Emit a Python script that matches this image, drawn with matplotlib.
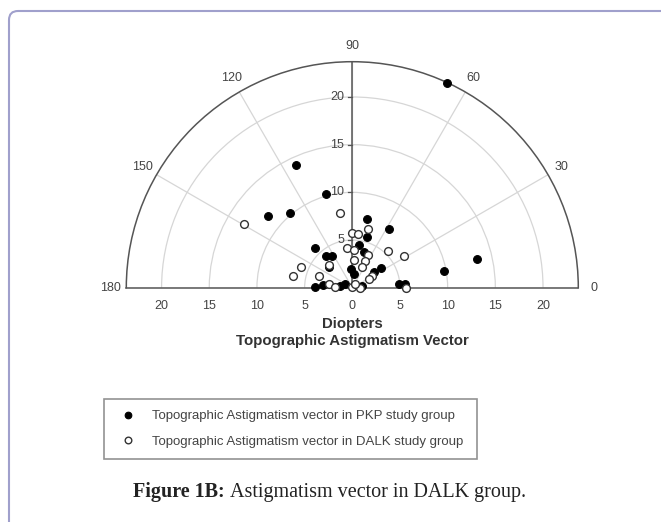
import numpy as np
import matplotlib
matplotlib.use("Agg")
import matplotlib.pyplot as plt
from matplotlib.patches import FancyBboxPatch
from matplotlib.transforms import IdentityTransform

plt.rcParams['font.family'] = ['Liberation Sans', 'DejaVu Sans']

# --------------------------------------------
# Datos: vectores de astigmatismo (angulo en grados, magnitud en dioptrias)
# --------------------------------------------
pkp_angle = [65.2, 114.7, 105.9, 139.7, 129.6, 78.0, 58.1, 73.2, 80.6, 133.8,
             72.1, 129.9, 122.3, 139.3, 13.1, 10.1, 35.0, 34.8, 94.6, 83.1,
             179.3, 174.4, 171.2, 151.0, 10.8, 4.7, 4.2]
pkp_mag = [23.6, 14.17, 10.2, 11.63, 10.18, 7.35, 7.3, 5.5, 4.58, 5.72,
           3.91, 4.33, 3.93, 3.27, 13.44, 9.78, 3.66, 2.8, 1.99, 1.41,
           3.9, 3.05, 1.31, 0.82, 1.07, 4.92, 5.51]

dalk_angle = [149.7, 99.4, 90.0, 83.6, 75.1, 97.3, 87.3, 45.3, 31.9, 64.7,
              85.6, 64.9, 64.6, 134.9, 157.9, 169.1, 160.1, 30.3, 26.8, 171.3,
              179.0, 90.0, 1.0, 53.6, 0.0]
dalk_mag = [13.14, 7.89, 5.76, 5.64, 6.41, 4.22, 3.98, 5.37, 6.37, 3.75,
            2.88, 3.07, 2.4, 3.43, 5.8, 6.34, 3.73, 2.34, 1.99, 2.51,
            1.8, 0.1, 0.82, 0.47, 5.6]

r_ticks = [5, 10, 15, 20]
theta_ticks = [0, 30, 60, 90, 120, 150, 180]
r_max = 23.7

legend_labels = ["Topographic Astigmatism vector in PKP study group",
                 "Topographic Astigmatism vector in DALK study group"]

# --------------------------------------------
# Figura
# --------------------------------------------
W, H = 661, 522
fig = plt.figure(figsize=(W / 100, H / 100), dpi=100)

# marco redondeado de la pagina
frame = FancyBboxPatch((9, -30), 720, H - 11 + 30,
                       boxstyle="round,pad=0,rounding_size=9",
                       transform=IdentityTransform(), facecolor='white',
                       edgecolor='#a0a0cc', linewidth=1.5, zorder=0)
fig.add_artist(frame)

# el semicirculo ocupa la mitad de la caja del eje: caja de 4R x 2R
cx, cy, R = 352.3, H - 287.7, 226
ax = fig.add_axes([(cx - 2 * R) / W, (cy + R / 2 - R) / H, 4 * R / W, 2 * R / H],
                  projection='polar')
ax.set_thetamin(0)
ax.set_thetamax(180)
ax.set_rlim(0, r_max)
ax.set_facecolor('none')

ax.set_xticks(np.radians(theta_ticks))
ax.set_xticklabels([])
ax.set_rticks(r_ticks)
ax.set_yticklabels([])
ax.grid(True, color='#d6d6d6', linewidth=0.9)
ax.tick_params(axis='x', direction='out', length=4, width=0.9, color='#555555')
ax.tick_params(axis='y', length=0)

for name in ['polar', 'start', 'end']:
    ax.spines[name].set_color('#555555')
    ax.spines[name].set_linewidth(1.1)

# eje vertical (90 grados) oscuro con marcas
ax.plot([np.pi / 2, np.pi / 2], [0, r_max], color='#555555', lw=1.1, zorder=3)
for r in r_ticks:
    t_end = np.arctan2(r, -0.5)
    ax.plot([np.pi / 2, t_end], [r, np.hypot(r, 0.5)], color='#555555', lw=0.9, zorder=3)
    ax.annotate(str(r), xy=(np.pi / 2, r), xytext=(-6, 0), textcoords='offset points',
                ha='right', va='center', fontsize=9, color='#444444', zorder=4)

# etiquetas de la linea base (ambos lados)
for r in [0] + r_ticks:
    for t in ([0] if r == 0 else [0, np.pi]):
        ax.annotate(str(r), xy=(t, r), xytext=(0, -13), textcoords='offset points',
                    ha='center', va='center', fontsize=9, color='#444444',
                    annotation_clip=False)

# etiquetas de angulo
for a in theta_ticks:
    ax.text(np.radians(a), 25.35, str(a), ha='center', va='center',
            fontsize=9, color='#444444', clip_on=False)

# puntos
ax.plot(np.radians(pkp_angle), pkp_mag, 'o', ms=5.6, mfc='black', mec='black',
        mew=0.8, clip_on=False, zorder=5, label=legend_labels[0])
ax.plot(np.radians(dalk_angle), dalk_mag, 'o', ms=5.6, mfc='white', mec='#333333',
        mew=1.0, clip_on=False, zorder=6, label=legend_labels[1])

fig.text(cx / W, 1 - 324 / H, "Diopters", ha='center', va='center',
         fontsize=10.8, fontweight='bold', color='#333333')
fig.text(cx / W, 1 - 341 / H, "Topographic Astigmatism Vector", ha='center',
         va='center', fontsize=10.8, fontweight='bold', color='#333333')

# leyenda
h, l = ax.get_legend_handles_labels()
leg = fig.legend(h, l, loc='upper left',
                 bbox_to_anchor=(104 / W, 1 - 461 / H, 373 / W, 62 / H),
                 mode='expand', borderaxespad=0, fancybox=False, frameon=True,
                 edgecolor='#777777', borderpad=0.85, handletextpad=0.8,
                 labelspacing=1.0, fontsize=9.5, markerscale=0.85, handlelength=2.0)
leg.get_frame().set_linewidth(1.2)
for t in leg.get_texts():
    t.set_color('#444444')

# pie de figura
r_ = fig.canvas.get_renderer()
cap1 = fig.text(133 / W, 1 - 492 / H, "Figure 1B:", ha='left', va='center',
                fontsize=14.5, fontweight='bold', family='Liberation Serif', color='#222222')
bb = cap1.get_window_extent(renderer=r_)
fig.text((bb.x1 + 5) / W, 1 - 492 / H, "Astigmatism vector in DALK group.", ha='left',
         va='center', fontsize=14.5, family='Liberation Serif', color='#222222')

fig.savefig("out.png", dpi=100)
